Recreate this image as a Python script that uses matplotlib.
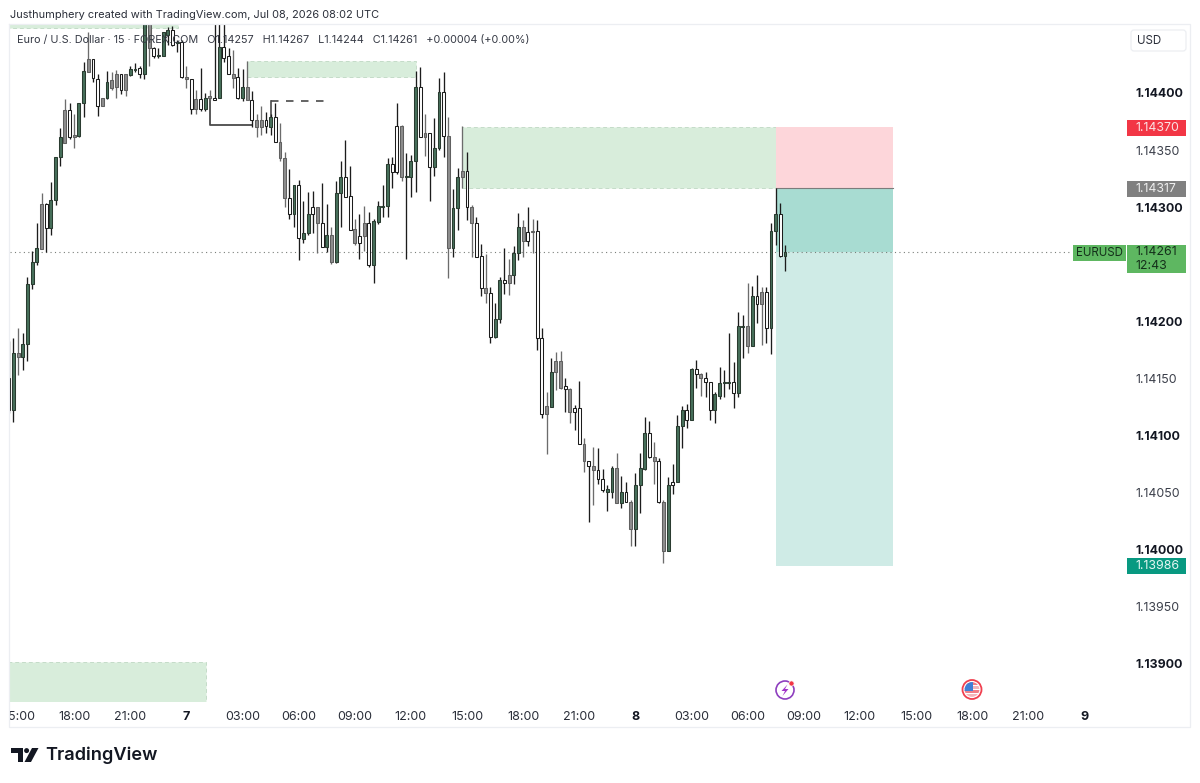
import numpy as np
import matplotlib
matplotlib.use("Agg")
import matplotlib.pyplot as plt
from matplotlib.patches import Circle, Polygon, Rectangle, FancyBboxPatch
from matplotlib.transforms import ScaledTranslation

plt.rcParams["font.family"] = ["Inter", "DejaVu Sans"]

# EURUSD 15m candles, in points above 1.14000 (1 point = 0.00001)
open_pts = [
    150, 122, 172, 169, 180, 233, 252, 263, 303, 282,
    306, 344, 356, 385, 361, 362, 391, 418, 430, 412,
    389, 396, 404, 417, 417, 403, 416, 420, 422, 417,
    460, 439, 432, 432, 451, 455, 444, 445, 412, 412,
    386, 395, 386, 396, 396, 396, 440, 432, 413, 414,
    396, 405, 394, 376, 370, 376, 370, 379, 357, 343,
    308, 294, 319, 272, 277, 300, 300, 286, 265, 276,
    252, 312, 326, 310, 281, 275, 275, 286, 249, 287,
    300, 301, 338, 371, 371, 326, 326, 340, 405, 361,
    365, 335, 352, 401, 362, 264, 299, 326, 332, 300,
    286, 257, 229, 225, 186, 202, 236, 234, 241, 260,
    283, 278, 278, 279, 185, 119, 125, 156, 165, 143,
    141, 124, 124, 93, 78, 73, 70, 62, 51, 51,
    72, 41, 51, 42, 18, 57, 71, 102, 81, 78,
    42, -1, 59, 59, 108, 122, 114, 158, 154, 150,
    147, 122, 135, 146, 146, 147, 137, 195, 196, 178,
    222, 215, 226, 194, 279, 294, 257,
]
close_pts = [
    122, 172, 169, 180, 233, 252, 264, 303, 282, 306,
    344, 361, 385, 361, 363, 391, 419, 430, 413, 389,
    396, 410, 411, 405, 403, 417, 421, 421, 417, 462,
    439, 432, 433, 453, 455, 442, 445, 414, 414, 386,
    395, 386, 396, 397, 394, 440, 431, 417, 417, 396,
    405, 394, 376, 370, 376, 371, 379, 357, 343, 308,
    294, 319, 273, 277, 294, 294, 286, 265, 276, 252,
    312, 326, 309, 280, 269, 269, 286, 249, 288, 301,
    301, 338, 331, 331, 326, 327, 340, 405, 361, 365,
    335, 352, 401, 362, 264, 299, 326, 332, 300, 286,
    256, 229, 225, 186, 202, 236, 234, 241, 260, 283,
    270, 270, 279, 185, 119, 126, 156, 165, 142, 141,
    121, 121, 93, 78, 73, 70, 62, 52, 53, 72,
    41, 51, 42, 18, 57, 72, 102, 81, 78, 42,
    -1, 57, 57, 108, 122, 114, 158, 154, 150, 147,
    122, 136, 146, 147, 147, 137, 196, 196, 178, 222,
    215, 226, 194, 279, 294, 257, 261,
]
high_pts = [
    183, 185, 194, 190, 239, 262, 286, 312, 304, 322,
    344, 369, 395, 391, 382, 391, 427, 453, 430, 417,
    396, 419, 418, 420, 417, 417, 424, 426, 424, 475,
    472, 440, 439, 453, 458, 459, 446, 446, 424, 412,
    403, 422, 400, 403, 470, 470, 466, 439, 438, 422,
    421, 428, 402, 382, 389, 383, 382, 391, 374, 348,
    333, 319, 324, 305, 313, 314, 300, 321, 303, 283,
    323, 340, 359, 336, 290, 294, 301, 296, 290, 305,
    319, 343, 344, 391, 372, 347, 346, 419, 423, 382,
    365, 378, 413, 418, 379, 316, 334, 371, 348, 302,
    291, 268, 259, 230, 216, 239, 264, 255, 266, 295,
    289, 300, 290, 289, 194, 138, 168, 173, 174, 150,
    142, 127, 148, 98, 78, 90, 89, 71, 57, 73,
    85, 65, 59, 44, 67, 85, 116, 113, 94, 80,
    44, 64, 75, 118, 126, 128, 159, 166, 155, 156,
    147, 138, 160, 157, 190, 164, 208, 206, 234, 231,
    241, 230, 230, 286, 317, 304, 267,
]
low_pts = [
    120, 112, 153, 157, 165, 228, 249, 263, 261, 276,
    302, 336, 356, 360, 352, 361, 379, 418, 410, 380,
    389, 395, 403, 396, 399, 397, 415, 418, 413, 412,
    424, 431, 431, 432, 442, 441, 436, 413, 404, 382,
    382, 384, 384, 394, 394, 396, 427, 417, 404, 395,
    393, 394, 370, 361, 363, 365, 363, 357, 340, 300,
    290, 283, 254, 269, 276, 277, 260, 265, 261, 250,
    251, 283, 309, 280, 267, 255, 262, 248, 234, 285,
    291, 291, 317, 329, 323, 255, 309, 313, 361, 345,
    305, 327, 350, 344, 238, 256, 280, 317, 289, 256,
    256, 222, 216, 181, 185, 199, 224, 223, 233, 254,
    256, 266, 260, 175, 115, 84, 125, 140, 141, 121,
    111, 105, 93, 68, 24, 39, 58, 51, 34, 45,
    41, 37, 42, 3, 3, 32, 70, 80, 58, 41,
    -12, -1, 49, 59, 89, 107, 114, 142, 135, 134,
    114, 111, 132, 134, 141, 124, 134, 168, 172, 178,
    199, 179, 181, 171, 267, 256, 244,
]
# g = green body, w = hollow body, s = grey body
candle_kinds = list(
    "wgsggggswg" "ggswsggsww" "sgsswsggwg" "swgggwgwsw" "swgswgwwsw"
    "gswsswgwss" "wgwggwswgs" "ggwwswswgg" "ggwwsgggws" "wggwsggsws"
    "wwswggwsgg" "swswwsgssw" "swwswswwgg" "sgwsgggwsw" "sgwggwgwsw"
    "wggggwggsg" "wswggwg"
)

bold_prices = [1.14400, 1.14300, 1.14200, 1.14100, 1.14000, 1.13900]
plain_prices = [1.14350, 1.14150, 1.14050, 1.13950]

time_bars = [2.8, 14, 26, 38, 50, 62, 74, 86, 98, 110, 122, 134, 146, 158, 170, 182, 194, 206, 218, 230]
time_labels = ["5:00", "18:00", "21:00", "7", "03:00", "06:00", "09:00", "12:00", "15:00", "18:00",
               "21:00", "8", "03:00", "06:00", "09:00", "12:00", "15:00", "18:00", "21:00", "9"]

stop_price = 1.14370
entry_price = 1.14317
target_price = 1.13986

# supply / demand zones: first bar, last bar, bottom, top
zone_left = [-2, 51, 97, -2]
zone_right = [36.2, 87.1, 164, 42.2]
zone_bottom = [1.14457, 1.14414, 1.14317, 1.13860]
zone_top = [1.14470, 1.14428, 1.14370, 1.13902]

opens = 1.14 + np.array(open_pts) / 1e5
closes = 1.14 + np.array(close_pts) / 1e5
highs = 1.14 + np.array(high_pts) / 1e5
lows = 1.14 + np.array(low_pts) / 1e5
last_price = closes[-1]
bars = np.arange(len(opens))

fig = plt.figure(figsize=(12, 7.83), dpi=100, facecolor="white")
ax = fig.add_axes([10 / 1200, 81 / 783, 1117 / 1200, 677 / 783])
ax.set_xlim(0.26, 239.13)
ax.set_ylim(1.138667, 1.144595)
for side in ax.spines.values():
    side.set_visible(False)

# zones sit under the candles
for x0, x1, y0, y1 in zip(zone_left, zone_right, zone_bottom, zone_top):
    ax.add_patch(Rectangle((x0, y0), x1 - x0, y1 - y0, facecolor="#d8eddb",
                           edgecolor="#c4dcc8", linewidth=0.7, linestyle=(0, (4, 3)), zorder=1))

# short position tool
pos_left, pos_right = 164, 189.1
ax.add_patch(Rectangle((pos_left, entry_price), pos_right - pos_left, stop_price - entry_price,
                       facecolor="#fdd6da", edgecolor="none", zorder=1))
ax.add_patch(Rectangle((pos_left, target_price), pos_right - pos_left, last_price - target_price,
                       facecolor="#cfebe6", edgecolor="none", zorder=1))
ax.add_patch(Rectangle((pos_left, last_price), pos_right - pos_left, entry_price - last_price,
                       facecolor="#a8dcd2", edgecolor="none", zorder=1))
ax.plot([pos_left, pos_right], [entry_price, entry_price], color="#7c7c7c", lw=0.8, zorder=2)

ax.plot([0.26, 226.9], [last_price, last_price], color="#7a7f7a", lw=0.8, ls=(0, (1, 3)), zorder=2)

# structure break drawings
ax.plot([43, 43, 52], [1.14395, 1.14372, 1.14372], color="#4a4a4a", lw=1.3, zorder=2)
ax.plot([56, 56], [1.14379, 1.14393], color="#4a4a4a", lw=1.2, zorder=2)
ax.plot([56, 68], [1.14393, 1.14393], color="#4a4a4a", lw=1.2, ls=(0, (4.5, 4.5)), zorder=2)

fills = {"g": "#47705a", "w": "white", "s": "#8d8d8d"}
edges = {"g": "#2a3b30", "w": "#1c1c1c", "s": "#606060"}
wicks = {"g": "#1c1c1c", "w": "#1c1c1c", "s": "#6c6c6c"}
for b, o, h, l, c, kind in zip(bars, opens, highs, lows, closes, candle_kinds):
    ax.plot([b, b], [l, h], color=wicks[kind], lw=0.95, solid_capstyle="butt", zorder=3)
    ax.bar(b, max(abs(c - o), 0.00001), bottom=min(o, c), width=0.62,
           facecolor=fills[kind], edgecolor=edges[kind], linewidth=0.75, zorder=4)

# price scale on the right
ax.yaxis.tick_right()
ax.set_yticks(bold_prices + plain_prices)
ax.set_yticklabels([f"{p:.5f}" for p in bold_prices + plain_prices], fontsize=8.9, color="#131722")
nudge_up = ScaledTranslation(0, 1 / 100, fig.dpi_scale_trans)
for lab, p in zip(ax.get_yticklabels(), bold_prices + plain_prices):
    lab.set_transform(lab.get_transform() + nudge_up)
    if p in bold_prices:
        lab.set_fontweight("bold")
    else:
        lab.set_color("#3b3f4a")
ax.tick_params(axis="y", length=0, pad=6)

ax.set_xticks(time_bars)
ax.set_xticklabels(time_labels, fontsize=9, color="#2a2e39")
for lab, txt in zip(ax.get_xticklabels(), time_labels):
    if len(txt) == 1:
        lab.set_fontweight("bold")
        lab.set_color("#131722")
ax.tick_params(axis="x", length=0, pad=6.8)

# overlay in pixel coordinates for the chart furniture
top = fig.add_axes([0, 0, 1, 1], zorder=5)
top.set_xlim(0, 1200)
top.set_ylim(783, 0)
top.axis("off")
top.patch.set_alpha(0)

line_col = "#eceef2"
top.plot([9, 1190, 1190, 9, 9], [24, 24, 727, 727, 24], color=line_col, lw=0.9)

top.text(10, 14.5, "Justhumphery created with TradingView.com, Jul 08, 2026 08:02 UTC",
         fontsize=7.9, color="#2a2e39", va="center", ha="left")
legend = (f"Euro / U.S. Dollar · 15 · FOREX.COM   O{opens[-1]:.5f}   H{highs[-1]:.5f}   "
          f"L{lows[-1]:.5f}   C{closes[-1]:.5f}   +0.00004 (+0.00%)")
top.text(17, 39.5, legend, fontsize=7.8, color="#363a45", va="center", ha="left")

top.add_patch(FancyBboxPatch((1131, 30), 55, 21, boxstyle="round,pad=0,rounding_size=3",
                             facecolor="white", edgecolor="#eceef2", lw=0.9))
top.text(1149.5, 40.5, "USD", fontsize=8.3, color="#2a2e39", va="center", ha="center")


def price_box(y0, y1, color, lines, text_color):
    top.add_patch(Rectangle((1127, y0), 59, y1 - y0, facecolor=color, edgecolor="none"))
    n = len(lines)
    for i, s in enumerate(lines):
        top.text(1135.5, y0 + (y1 - y0) * (i + 0.5) / n, s, fontsize=8.9, color=text_color,
                 va="center", ha="left")


price_box(120, 136, "#f23645", [f"{stop_price:.5f}"], "#fbe3e5")
price_box(181, 197, "#808080", [f"{entry_price:.5f}"], "#eeeeee")
price_box(245, 273, "#5eb761", [f"{last_price:.5f}", "12:43"], "#14301a")
price_box(558, 574, "#089981", [f"{target_price:.5f}"], "#e6f6f2")

top.add_patch(Rectangle((1073, 245), 53, 16, facecolor="#5eb761", edgecolor="none"))
top.text(1099.5, 253, "EURUSD", fontsize=8.3, color="#14301a", va="center", ha="center")

# event markers on the time scale
top.add_patch(Circle((785, 690), 9, facecolor="white", edgecolor="#8e3fbf", lw=1.2))
top.add_patch(Polygon([(787.5, 684.5), (781.5, 691), (785, 691), (782.5, 696), (788.5, 689), (785, 689)],
                      facecolor="#a235c9", edgecolor="none"))
top.add_patch(Circle((791.5, 683.5), 2.6, facecolor="#f23645", edgecolor="white", lw=0.5))

top.add_patch(Circle((972, 689.5), 9.5, facecolor="white", edgecolor="#f0404f", lw=1.3))
flag_clip = Circle((972, 689.5), 7.4, transform=top.transData)
for y, col in zip([682, 686, 690, 694], ["#f07f88", "#f4b5ba", "#f07f88", "#f4b5ba"]):
    band = top.add_patch(Rectangle((964, y), 16, 3.2, facecolor=col, edgecolor="none"))
    band.set_clip_path(flag_clip)
canton = top.add_patch(Rectangle((964, 682), 8.5, 8.5, facecolor="#3f7fd6", edgecolor="none"))
canton.set_clip_path(flag_clip)

# TradingView wordmark
logo = "#131722"
top.add_patch(Polygon([(11, 748), (23, 748), (23, 762), (17.5, 762), (17.5, 753), (11, 753)],
                      facecolor=logo, edgecolor="none"))
top.add_patch(Circle((26.6, 750.6), 2.5, facecolor=logo, edgecolor="none"))
top.add_patch(Polygon([(32, 748), (38.5, 748), (31, 762), (24.5, 762)], facecolor=logo, edgecolor="none"))
top.text(45, 755, "TradingView", fontsize=13.1, fontweight="semibold", color=logo, va="center", ha="left")

fig.savefig("out.png", dpi=100)
